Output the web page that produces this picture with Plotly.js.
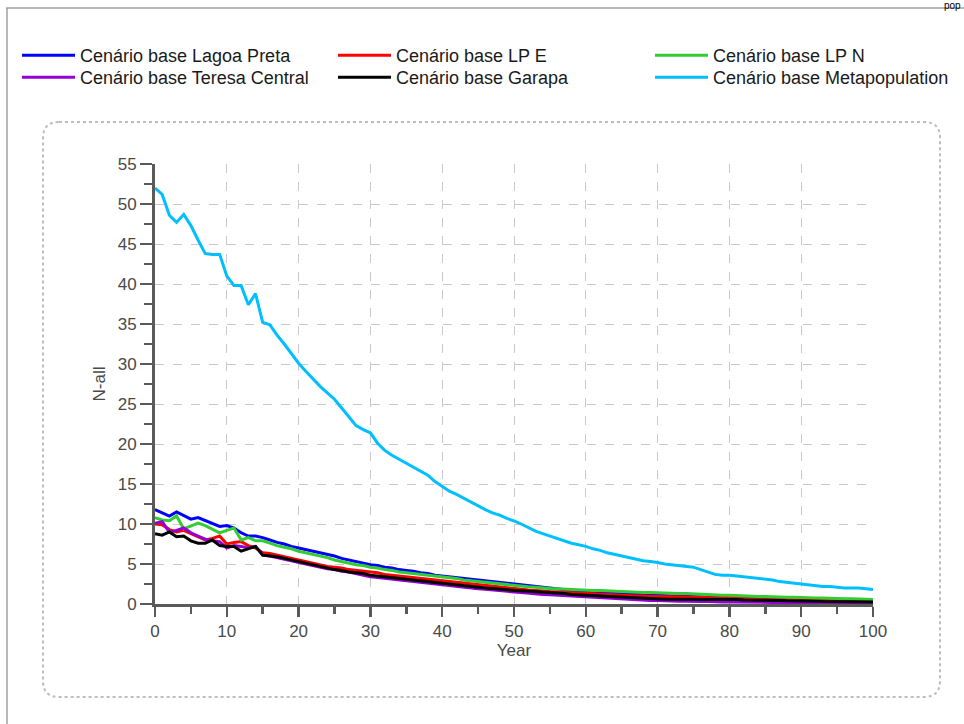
<!DOCTYPE html>
<html>
<head>
<meta charset="utf-8">
<script src="https://cdn.plot.ly/plotly-3.0.1.min.js"></script>
<style>
  html, body { margin: 0; padding: 0; background: #ffffff; }
  #chart { width: 964px; height: 724px; }
</style>
</head>
<body>
<div id="chart"></div>
<script>
// ---------------- DATA ----------------
const years = [0,1,2,3,4,5,6,7,8,9,10,11,12,13,14,15,16,17,18,19,20,21,22,23,24,25,26,27,28,29,30,31,32,33,34,35,36,37,38,39,40,41,42,43,44,45,46,47,48,49,50,51,52,53,54,55,56,57,58,59,60,61,62,63,64,65,66,67,68,69,70,71,72,73,74,75,76,77,78,79,80,81,82,83,84,85,86,87,88,89,90,91,92,93,94,95,96,97,98,99,100];

const seriesNames = [
  "Cenário base Lagoa Preta",
  "Cenário base LP E",
  "Cenário base LP N",
  "Cenário base Teresa Central",
  "Cenário base Garapa",
  "Cenário base Metapopulation"
];

const lagoaPreta = [11.8,11.4,11.0,11.5,11.0,10.6,10.8,10.4,10.0,9.7,9.8,9.5,8.9,8.5,8.5,8.3,8.0,7.7,7.5,7.2,7.0,6.8,6.6,6.4,6.2,6.0,5.7,5.5,5.3,5.1,4.9,4.8,4.6,4.5,4.3,4.2,4.1,3.9,3.8,3.6,3.5,3.4,3.3,3.2,3.1,3.0,2.9,2.8,2.7,2.6,2.5,2.4,2.3,2.2,2.1,1.95,1.85,1.75,1.7,1.65,1.6,1.55,1.45,1.4,1.35,1.3,1.25,1.2,1.15,1.1,1.1,1.05,1.0,1.0,0.95,0.95,0.9,0.85,0.85,0.8,0.8,0.75,0.7,0.65,0.65,0.6,0.6,0.55,0.5,0.5,0.45,0.45,0.4,0.4,0.35,0.35,0.35,0.3,0.3,0.3,0.3];

const lpE = [10.0,9.9,9.3,9.0,9.2,8.8,8.4,8.0,8.2,8.5,7.5,7.7,7.8,7.3,7.0,6.4,6.3,6.1,5.9,5.7,5.5,5.3,5.1,4.9,4.7,4.6,4.5,4.3,4.2,4.1,4.0,3.9,3.7,3.6,3.5,3.4,3.3,3.2,3.1,3.0,2.9,2.8,2.7,2.6,2.5,2.4,2.3,2.2,2.1,2.0,1.9,1.85,1.75,1.7,1.6,1.55,1.5,1.45,1.4,1.35,1.3,1.25,1.2,1.15,1.1,1.1,1.05,1.0,1.0,0.95,0.95,0.9,0.9,0.9,0.85,0.85,0.85,0.8,0.8,0.8,0.8,0.75,0.7,0.7,0.65,0.65,0.6,0.55,0.55,0.5,0.5,0.5,0.45,0.45,0.45,0.45,0.4,0.4,0.4,0.35,0.35];

const lpN = [10.8,10.5,10.4,11.0,9.4,9.8,10.1,9.8,9.3,8.9,9.2,9.5,8.0,8.3,7.9,7.9,7.6,7.3,7.1,6.9,6.6,6.4,6.2,6.0,5.8,5.5,5.3,5.1,4.9,4.8,4.6,4.5,4.3,4.2,4.0,3.9,3.8,3.7,3.6,3.5,3.4,3.3,3.2,3.0,2.9,2.8,2.7,2.6,2.5,2.4,2.3,2.25,2.15,2.1,2.0,1.95,1.9,1.85,1.8,1.8,1.75,1.7,1.7,1.65,1.6,1.55,1.55,1.5,1.45,1.45,1.4,1.4,1.35,1.3,1.3,1.25,1.2,1.2,1.15,1.1,1.1,1.05,1.0,1.0,0.95,0.95,0.9,0.9,0.85,0.85,0.8,0.8,0.75,0.75,0.7,0.7,0.65,0.65,0.6,0.55,0.55];

const teresaCentral = [10.1,10.3,9.0,9.2,9.5,8.9,8.5,8.1,7.9,7.8,7.0,7.3,7.2,7.0,7.2,6.1,6.0,5.8,5.6,5.4,5.2,5.0,4.8,4.6,4.4,4.3,4.1,4.0,3.8,3.6,3.4,3.3,3.2,3.05,2.95,2.85,2.75,2.65,2.55,2.45,2.4,2.3,2.2,2.1,2.0,1.9,1.85,1.75,1.7,1.6,1.5,1.45,1.35,1.3,1.2,1.15,1.1,1.0,0.95,0.9,0.85,0.8,0.75,0.7,0.65,0.6,0.55,0.55,0.5,0.45,0.45,0.4,0.4,0.35,0.35,0.3,0.3,0.3,0.25,0.25,0.25,0.25,0.2,0.2,0.2,0.2,0.2,0.15,0.15,0.15,0.15,0.1,0.1,0.1,0.1,0.1,0.1,0.05,0.05,0.05,0.05];

const garapa = [8.8,8.6,9.0,8.4,8.5,7.9,7.6,7.6,8.0,7.3,7.2,7.2,6.6,6.9,7.2,6.1,6.0,5.9,5.7,5.5,5.3,5.1,4.9,4.7,4.5,4.3,4.2,4.0,3.9,3.8,3.6,3.5,3.4,3.3,3.15,3.05,2.95,2.85,2.75,2.7,2.6,2.5,2.4,2.3,2.2,2.1,2.0,1.95,1.85,1.8,1.7,1.65,1.6,1.55,1.45,1.4,1.35,1.3,1.2,1.15,1.1,1.05,1.0,0.95,0.9,0.85,0.8,0.75,0.7,0.65,0.6,0.6,0.6,0.6,0.6,0.6,0.6,0.55,0.55,0.55,0.55,0.55,0.5,0.5,0.5,0.5,0.45,0.45,0.4,0.4,0.4,0.35,0.35,0.3,0.3,0.3,0.3,0.25,0.25,0.25,0.25];

const metapopulation = [52.0,51.2,48.6,47.7,48.7,47.3,45.5,43.8,43.7,43.7,41.0,39.8,39.8,37.4,38.8,35.2,34.9,33.6,32.5,31.3,30.1,29.1,28.1,27.2,26.4,25.6,24.5,23.4,22.3,21.8,21.4,20.1,19.2,18.6,18.1,17.6,17.2,16.7,16.1,15.3,14.7,14.1,13.7,13.2,12.8,12.3,11.8,11.4,11.1,10.7,10.4,10.0,9.5,9.1,8.8,8.5,8.2,7.9,7.6,7.4,7.2,6.9,6.7,6.4,6.2,6.0,5.8,5.6,5.4,5.3,5.2,5.0,4.9,4.8,4.75,4.6,4.3,3.95,3.7,3.6,3.6,3.5,3.4,3.3,3.2,3.1,3.0,2.8,2.7,2.6,2.5,2.4,2.3,2.2,2.2,2.1,2.0,2.0,2.0,1.9,1.8];

const xTickVals = [0,10,20,30,40,50,60,70,80,90,100];
const yTickVals = [0,5,10,15,20,25,30,35,40,45,50,55];

// ---------------- STYLE ----------------
const W = 964, H = 724;
const M = {l: 155, r: 91, t: 164, b: 120, autoexpand: false};
const PW = W - M.l - M.r, PH = H - M.t - M.b;
const px2x = p => (p - M.l) / PW;
const py2y = p => (H - M.b - p) / PH;

const FONT = 'Liberation Sans, Arial, sans-serif';
const AXC = '#5a5a5a';
const TXT = '#4a4a4a';

const seriesData = [lagoaPreta, lpE, lpN, teresaCentral, garapa, metapopulation];
const colors = ['#0000ff', '#ff0000', '#32cd32', '#9400d3', '#000000', '#00bfff'];
const legendIds = ['legend', 'legend2', 'legend3', 'legend4', 'legend5', 'legend6'];
// legend slot positions (pixels): column left x, row top y
const legendPos = [[17, 37], [333, 37], [650, 37], [17, 59], [333, 59], [650, 59]];

const traces = seriesData.map((d, i) => ({
  type: 'scatter',
  mode: 'lines',
  x: years,
  y: d,
  name: seriesNames[i],
  legend: legendIds[i],
  line: {color: colors[i], width: 3},
  hoverinfo: 'x+y+name'
}));

function roundRect(x0, y0, x1, y1, r) {
  const X0 = px2x(x0), X1 = px2x(x1), Y0 = py2y(y0), Y1 = py2y(y1);
  const rx = r / PW, ry = r / PH;
  return `M${X0+rx},${Y0} L${X1-rx},${Y0} Q${X1},${Y0} ${X1},${Y0-ry} L${X1},${Y1+ry} Q${X1},${Y1} ${X1-rx},${Y1} L${X0+rx},${Y1} Q${X0},${Y1} ${X0},${Y1+ry} L${X0},${Y0-ry} Q${X0},${Y0} ${X0+rx},${Y0} Z`;
}

const legendBase = {
  orientation: 'v',
  xanchor: 'left', yanchor: 'top',
  font: {family: FONT, size: 18, color: '#1a1a1a'},
  bgcolor: 'rgba(0,0,0,0)',
  borderwidth: 0,
  itemwidth: 53,
  tracegroupgap: 0,
  itemclick: false, itemdoubleclick: false
};

const layout = {
  width: W, height: H,
  margin: M,
  paper_bgcolor: '#ffffff',
  plot_bgcolor: '#ffffff',
  showlegend: true,
  xaxis: {
    range: [0, 100],
    tickvals: xTickVals,
    ticktext: xTickVals.map(String),
    tickfont: {family: FONT, size: 17, color: TXT},
    ticks: 'outside', ticklen: 10, tickwidth: 2.5, tickcolor: AXC,
    minor: {dtick: 5, tick0: 0, ticks: 'outside', ticklen: 7, tickwidth: 2.5, tickcolor: AXC, showgrid: false},
    showline: true, linecolor: AXC, linewidth: 3,
    showgrid: true, gridcolor: '#cdc7cd', griddash: 'dash', gridwidth: 1,
    zeroline: false, automargin: false,
    title: {text: 'Year', font: {family: FONT, size: 17, color: TXT}, standoff: 4},
    fixedrange: true
  },
  yaxis: {
    range: [0, 55],
    tickvals: yTickVals,
    ticktext: yTickVals.map(String),
    tickfont: {family: FONT, size: 17, color: TXT},
    ticks: 'outside', ticklen: 12, tickwidth: 2.5, tickcolor: AXC,
    minor: {dtick: 2.5, tick0: 0, ticks: 'outside', ticklen: 8, tickwidth: 2.5, tickcolor: AXC, showgrid: false},
    showline: true, linecolor: AXC, linewidth: 3,
    showgrid: true, gridcolor: '#cdc7cd', griddash: 'dash', gridwidth: 1,
    zeroline: false, automargin: false,
    title: {text: 'N-all', font: {family: FONT, size: 17, color: TXT}, standoff: 8},
    fixedrange: true
  },
  shapes: [
    {type: 'path', xref: 'paper', yref: 'paper', layer: 'below',
     path: roundRect(43, 122, 940, 697, 16),
     line: {color: '#bdbdbd', width: 2, dash: 'dot'}, fillcolor: 'rgba(0,0,0,0)'},
    {type: 'line', xref: 'paper', yref: 'paper', layer: 'below',
     x0: px2x(6), x1: px2x(964), y0: py2y(8), y1: py2y(8),
     line: {color: '#a0a0a0', width: 1.5}},
    {type: 'line', xref: 'paper', yref: 'paper', layer: 'below',
     x0: px2x(7), x1: px2x(7), y0: py2y(8), y1: py2y(724),
     line: {color: '#a0a0a0', width: 1.5}}
  ],
  annotations: [
    {xref: 'paper', yref: 'paper', x: px2x(962), y: py2y(-1), xanchor: 'right', yanchor: 'top',
     text: 'pop', showarrow: false, borderpad: 0, font: {family: FONT, size: 10, color: '#000000'}}
  ]
};

legendIds.forEach((id, i) => {
  layout[id] = Object.assign({}, legendBase, {x: px2x(legendPos[i][0]), y: py2y(legendPos[i][1])});
});

Plotly.newPlot('chart', traces, layout, {displayModeBar: false, staticPlot: true});
</script>
</body>
</html>
